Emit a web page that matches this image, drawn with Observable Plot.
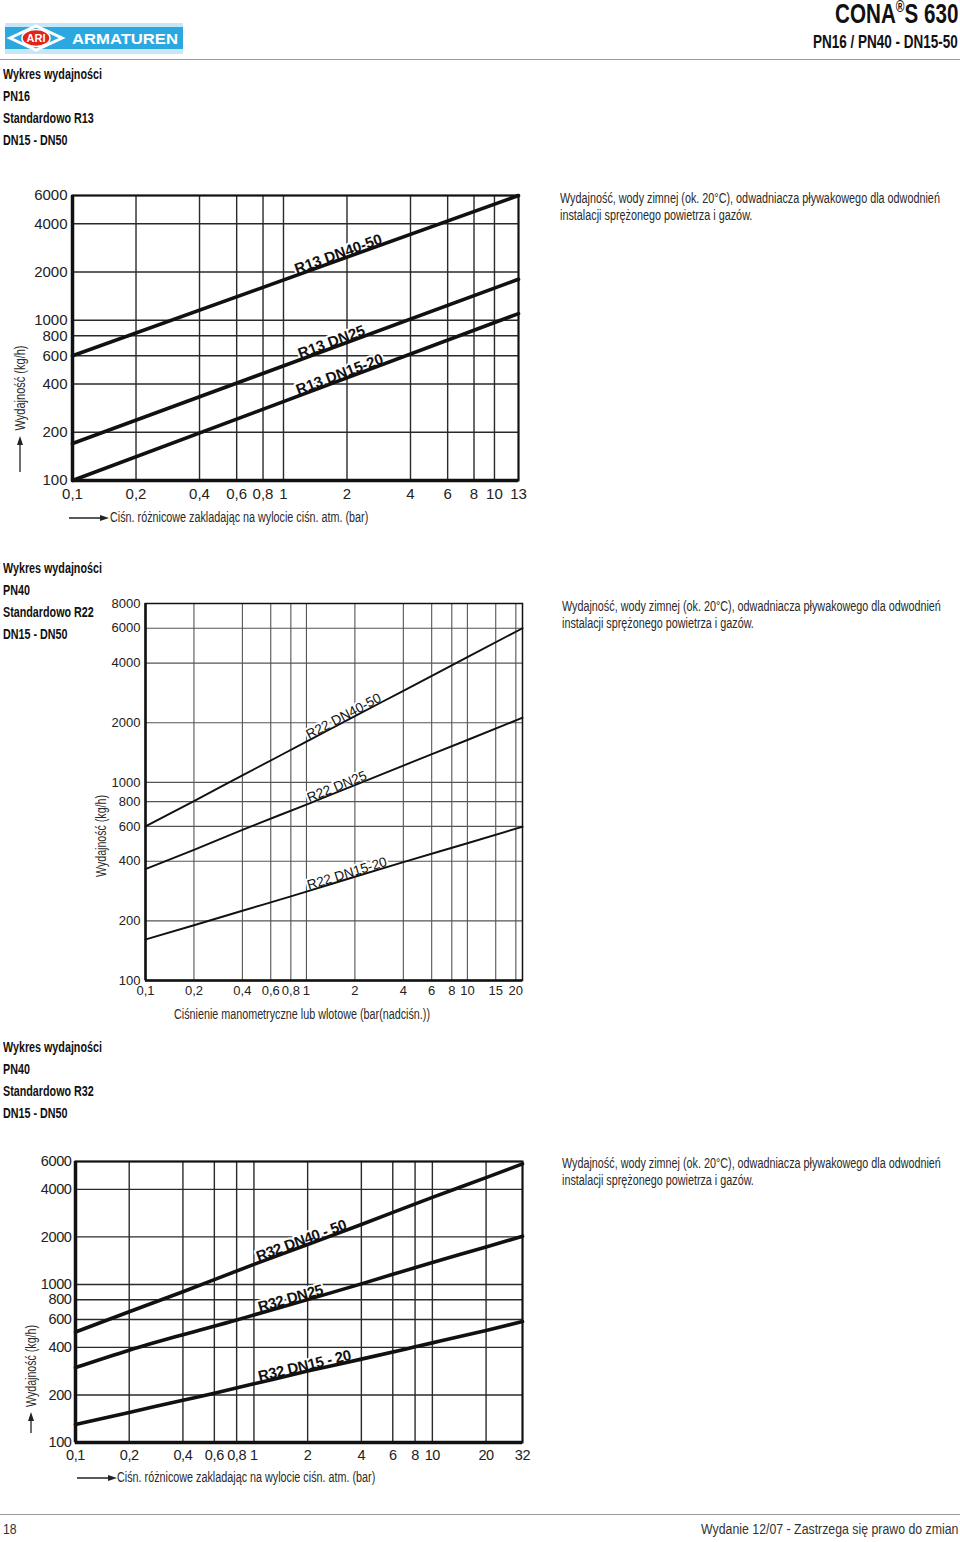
<!DOCTYPE html>
<html><head><meta charset="utf-8">
<script src="https://cdn.jsdelivr.net/npm/d3@7"></script>
<script src="https://cdn.jsdelivr.net/npm/@observablehq/plot@0.6"></script>
<style>
body{margin:0;width:960px;height:1542px;position:relative;background:#fff;font-family:"Liberation Sans",Arial,sans-serif;color:#222;overflow:hidden}
.abs{position:absolute;white-space:nowrap}
.m{display:inline-block}
.head{font-weight:bold;font-size:14px;line-height:22px;color:#111;transform-origin:left top}
.desc{font-size:14px;line-height:17px;color:#2a2a2a;transform-origin:left top}
.atitle{font-size:14px;line-height:15px;color:#2a2a2a}
.hr{position:absolute;left:0;width:960px;height:1px;background:#9a9a9a}
.chart svg{background:transparent!important}
#c3 svg text{letter-spacing:-0.4px}
</style></head><body>

<!-- header -->
<svg class="abs" style="left:5px;top:23px" width="180" height="31">
  <rect x="0" y="0" width="178" height="31" fill="#c6e8f6"/>
  <rect x="0" y="4" width="178" height="22" fill="#2aa8df"/>
  <polygon points="5,15 31,3 57,15 31,27" fill="none" stroke="#fff" stroke-width="3"/>
  <ellipse cx="31" cy="15" rx="14" ry="8.5" fill="#e2231a" stroke="#fff" stroke-width="1.5"/>
  <text x="31" y="19" text-anchor="middle" font-family="Liberation Sans" font-weight="bold" font-size="11" fill="#fff">ARI</text>
  <text x="67" y="21" font-family="Liberation Sans" font-weight="bold" font-size="14.5" fill="#fff" textLength="106" lengthAdjust="spacingAndGlyphs">ARMATUREN</text>
</svg>
<div class="abs" data-w="123" style="right:2px;top:-2px;font-size:28px;font-weight:bold;color:#111;transform-origin:right top"><span class="m">CONA<sup style="font-size:16px;vertical-align:11px">®</sup>S 630</span></div>
<div class="abs" data-w="145" style="right:2px;top:32px;font-size:17.5px;font-weight:bold;color:#111;transform-origin:right top"><span class="m">PN16 / PN40 - DN15-50</span></div>
<div class="hr" style="top:59px"></div>

<!-- section 1 -->
<div class="abs head" data-w="99" style="left:3px;top:63px"><span class="m">Wykres wydajności</span><br>PN16<br>Standardowo R13<br>DN15 - DN50</div>
<div class="abs desc" data-w="380" style="left:560px;top:190px"><span class="m">Wydajność, wody zimnej (ok. 20°C), odwadniacza pływakowego dla odwodnień</span><br>instalacji sprężonego powietrza i gazów.</div>
<div id="c1" class="abs chart" style="left:0;top:180px"></div>
<div class="abs atitle" data-w="85" data-t="translate(-50%,-50%) rotate(-90deg)" style="left:20px;top:388px"><span class="m">Wydajność (kg/h)</span></div>
<svg class="abs" style="left:14px;top:435px" width="12" height="38"><line x1="6" y1="37" x2="6" y2="8" stroke="#222" stroke-width="1.3"/><polygon points="6,1 3,10 9,10" fill="#222"/></svg>
<svg class="abs" style="left:68px;top:512px" width="42" height="12"><line x1="1" y1="6" x2="34" y2="6" stroke="#222" stroke-width="1.3"/><polygon points="41,6 32,3 32,9" fill="#222"/></svg>
<div class="abs atitle" data-w="258" style="left:110px;top:510px;transform-origin:left center"><span class="m">Ciśn. różnicowe zakladając na wylocie ciśn. atm. (bar)</span></div>

<!-- section 2 -->
<div class="abs head" data-w="99" style="left:3px;top:557px"><span class="m">Wykres wydajności</span><br>PN40<br>Standardowo R22<br>DN15 - DN50</div>
<div class="abs desc" data-w="379" style="left:562px;top:598px"><span class="m">Wydajność, wody zimnej (ok. 20°C), odwadniacza pływakowego dla odwodnień</span><br>instalacji sprężonego powietrza i gazów.</div>
<div id="c2" class="abs chart" style="left:80px;top:590px"></div>
<div class="abs atitle" data-w="82" data-t="translate(-50%,-50%) rotate(-90deg)" style="left:101px;top:836px"><span class="m">Wydajność (kg/h)</span></div>
<div class="abs atitle" data-w="256" data-t="translateX(-50%)" style="left:302px;top:1007px"><span class="m">Ciśnienie manometryczne lub wlotowe (bar(nadciśn.))</span></div>

<!-- section 3 -->
<div class="abs head" data-w="99" style="left:3px;top:1036px"><span class="m">Wykres wydajności</span><br>PN40<br>Standardowo R32<br>DN15 - DN50</div>
<div class="abs desc" data-w="379" style="left:562px;top:1155px"><span class="m">Wydajność, wody zimnej (ok. 20°C), odwadniacza pływakowego dla odwodnień</span><br>instalacji sprężonego powietrza i gazów.</div>
<div id="c3" class="abs chart" style="left:0;top:1145px"></div>
<div class="abs atitle" data-w="82" data-t="translate(-50%,-50%) rotate(-90deg)" style="left:31px;top:1366px"><span class="m">Wydajność (kg/h)</span></div>
<svg class="abs" style="left:25px;top:1411px" width="12" height="23"><line x1="6" y1="22" x2="6" y2="8" stroke="#222" stroke-width="1.3"/><polygon points="6,1 3,10 9,10" fill="#222"/></svg>
<svg class="abs" style="left:76px;top:1472px" width="42" height="12"><line x1="1" y1="6" x2="34" y2="6" stroke="#222" stroke-width="1.3"/><polygon points="41,6 32,3 32,9" fill="#222"/></svg>
<div class="abs atitle" data-w="258" style="left:117px;top:1470px;transform-origin:left center"><span class="m">Ciśn. różnicowe zakladając na wylocie ciśn. atm. (bar)</span></div>

<!-- footer -->
<div class="hr" style="top:1514px"></div>
<div class="abs" data-w="14" style="left:3px;top:1521px;font-size:14px;color:#333;transform-origin:left top"><span class="m">18</span></div>
<div class="abs" data-w="257" style="right:2px;top:1521px;font-size:14px;color:#333;transform-origin:right top"><span class="m">Wydanie 12/07 - Zastrzega się prawo do zmian</span></div>

<script>
// ---------- data ----------
// Chart 1: PN16, R13
const c1XTicks = [0.1, 0.2, 0.4, 0.6, 0.8, 1, 2, 4, 6, 8, 10, 13];
const c1YTicks = [100, 200, 400, 600, 800, 1000, 2000, 4000, 6000];
const r13Dn4050 = [[0.1, 600], [13, 6000]];
const r13Dn25 = [[0.1, 170], [13, 1800]];
const r13Dn1520 = [[0.1, 100], [13, 1100]];
const c1Names = ["R13 DN40-50", "R13 DN25", "R13 DN15-20"];
const c1LabelX = [1.85, 1.72, 1.88];

// Chart 2: PN40, R22
const c2XTicks = [0.1, 0.2, 0.4, 0.6, 0.8, 1, 2, 4, 6, 8, 10, 15, 20];
const c2YTicks = [100, 200, 400, 600, 800, 1000, 2000, 4000, 6000, 8000];
const r22Dn4050 = [[0.1, 600], [0.2, 805], [0.4, 1085], [1, 1605], [2, 2160], [4, 2900], [10, 4290], [22, 6000]];
const r22Dn25 = [[0.1, 365], [0.2, 457], [0.4, 576], [1, 773], [2, 970], [4, 1216], [10, 1637], [22, 2120]];
const r22Dn1520 = [[0.1, 161], [0.2, 190], [0.4, 225], [0.8, 266], [1, 281], [2, 334], [4, 396], [10, 493], [22, 597]];
const c2Names = ["R22 DN40-50", "R22 DN25", "R22 DN15-20"];
const c2LabelX = [1.75, 1.58, 1.82];

// Chart 3: PN40, R32
const c3XTicks = [0.1, 0.2, 0.4, 0.6, 0.8, 1, 2, 4, 6, 8, 10, 20, 32];
const c3YTicks = [100, 200, 400, 600, 800, 1000, 2000, 4000, 6000];
const r32Dn4050 = [[0.1, 500], [0.2, 672], [0.4, 900], [1, 1340], [2, 1790], [4, 2395], [10, 3560], [20, 4740], [32, 5800]];
const r32Dn25 = [[0.1, 298], [0.2, 384], [0.4, 481], [0.8, 596], [1, 641], [2, 802], [4, 1009], [10, 1378], [20, 1726], [32, 2020]];
const r32Dn1520 = [[0.1, 130], [0.2, 155], [0.4, 185], [0.6, 205], [1, 235], [2, 283], [4, 337], [8, 403], [10, 427], [20, 512], [32, 582]];
const c3Names = ["R32 DN40 - 50", "R32 DN25", "R32 DN15 - 20"];
const c3LabelX = [1.88, 1.63, 1.95];

// ---------- drawing ----------
const fmt = d => String(d).replace(".", ",");

function chart(o) {
  const {xDomain, yDomain, xTicks, yTicks, series, names, labelX, width, height, m} = o;
  const xs = Plot.scale({x: {type: "log", domain: xDomain, range: [m.left, width - m.right]}});
  const ys = Plot.scale({y: {type: "log", domain: yDomain, range: [height - m.bottom, m.top]}});
  const rows = [];
  series.forEach((pts, i) => pts.forEach(([x, y]) => rows.push({x, y, s: names[i]})));
  const labels = series.map((pts, i) => {
    const lx = labelX[i];
    let k = 0;
    while (k < pts.length - 2 && pts[k + 1][0] < lx) k++;
    const [x0, y0] = pts[k], [x1, y1] = pts[k + 1];
    const t = (Math.log(lx) - Math.log(x0)) / (Math.log(x1) - Math.log(x0));
    const ly = Math.exp(Math.log(y0) + t * (Math.log(y1) - Math.log(y0)));
    const a = Math.atan2(ys.apply(y1) - ys.apply(y0), xs.apply(x1) - xs.apply(x0)) * 180 / Math.PI;
    return {x: lx, y: ly, name: names[i], angle: a};
  });
  return Plot.plot({
    width, height,
    marginLeft: m.left, marginRight: m.right, marginTop: m.top, marginBottom: m.bottom,
    style: {fontFamily: "Liberation Sans, Arial, sans-serif", color: "#222", background: "transparent", overflow: "visible"},
    x: {type: "log", domain: xDomain, axis: null},
    y: {type: "log", domain: yDomain, axis: null},
    marks: [
      Plot.ruleX(xTicks, {stroke: o.gridColor, strokeWidth: o.gridW}),
      Plot.ruleY(yTicks, {stroke: o.gridColor, strokeWidth: o.gridW}),
      Plot.text(xTicks, {x: d => d, text: fmt, frameAnchor: "bottom", lineAnchor: "top", dy: o.xPad, fontSize: o.tickFont, fill: "#222"}),
      Plot.text(yTicks, {y: d => d, text: fmt, frameAnchor: "left", textAnchor: "end", dx: -o.yPad, fontSize: o.tickFont, fill: "#222"}),
      Plot.text(labels, {x: "x", y: "y", text: "name", rotate: "angle", textAnchor: "middle", lineAnchor: "bottom",
        dy: o.labelDy, fontSize: o.labelFont, fontWeight: o.labelWeight, fill: "#111",
        stroke: "white", strokeWidth: 4, paintOrder: "stroke"}),
      Plot.line(rows, {x: "x", y: "y", z: "s", stroke: "#111", strokeWidth: o.lineW, curve: "monotone-x"}),
      Plot.frame({stroke: "#111", strokeWidth: o.frameW}),
      Plot.ruleX([xDomain[0]], {stroke: "#111", strokeWidth: o.axisW}),
      Plot.ruleY([yDomain[0]], {stroke: "#111", strokeWidth: o.axisW})
    ]
  });
}

document.getElementById("c1").append(chart({
  xDomain: [0.1, 13], yDomain: [100, 6000], xTicks: c1XTicks, yTicks: c1YTicks,
  series: [r13Dn4050, r13Dn25, r13Dn1520], names: c1Names, labelX: c1LabelX,
  width: 540, height: 350, m: {left: 72, right: 22, top: 15, bottom: 50},
  tickFont: 15, xPad: 8, yPad: 5, gridColor: "#2a2a2a", gridW: 1.4, lineW: 3.6, frameW: 2, axisW: 3.5,
  labelFont: 15, labelWeight: "bold", labelDy: -1
}));

document.getElementById("c2").append(chart({
  xDomain: [0.1, 22], yDomain: [100, 8000], xTicks: c2XTicks, yTicks: c2YTicks,
  series: [r22Dn4050, r22Dn25, r22Dn1520], names: c2Names, labelX: c2LabelX,
  width: 460, height: 420, m: {left: 65, right: 18, top: 13, bottom: 30},
  tickFont: 13, xPad: 5, yPad: 5, gridColor: "#555", gridW: 1.1, lineW: 1.9, frameW: 1.5, axisW: 2.5,
  labelFont: 13.5, labelWeight: "normal", labelDy: -1
}));

document.getElementById("c3").append(chart({
  xDomain: [0.1, 32], yDomain: [100, 6000], xTicks: c3XTicks, yTicks: c3YTicks,
  series: [r32Dn4050, r32Dn25, r32Dn1520], names: c3Names, labelX: c3LabelX,
  width: 540, height: 345, m: {left: 75, right: 18, top: 16, bottom: 48},
  tickFont: 14.5, xPad: 7, yPad: 4, gridColor: "#2a2a2a", gridW: 1.4, lineW: 3.6, frameW: 2, axisW: 3.5,
  labelFont: 15, labelWeight: "bold", labelDy: -1
}));

// condense text blocks to the widths of the original's narrow typeface
document.querySelectorAll("[data-w]").forEach(el => {
  const span = el.querySelector(".m") || el;
  const w = span.offsetWidth;
  const s = w ? (+el.dataset.w) / w : 1;
  el.style.transform = (el.dataset.t || "") + ` scaleX(${s.toFixed(4)})`;
});
</script>
</body></html>
